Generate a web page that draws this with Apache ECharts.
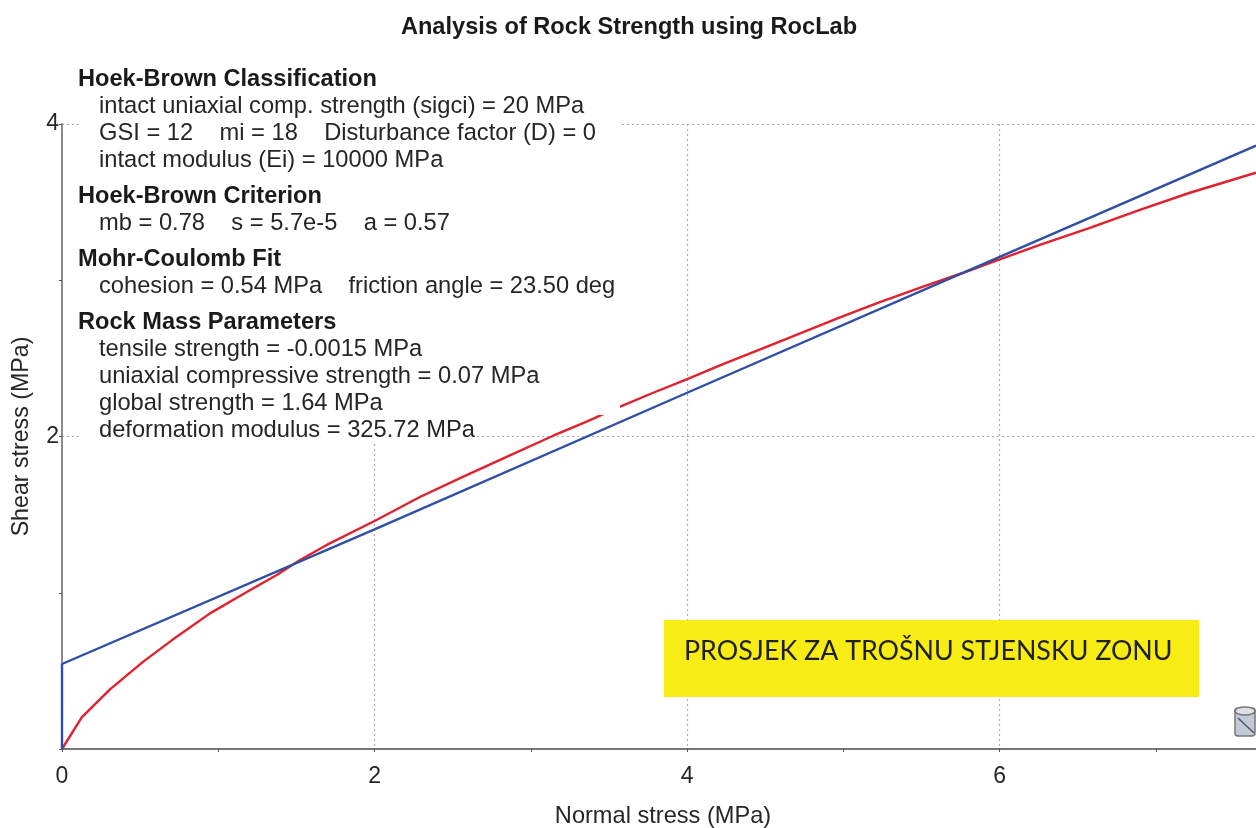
<!DOCTYPE html>
<html>
<head>
<meta charset="utf-8">
<script src="https://cdn.jsdelivr.net/npm/echarts@6/dist/echarts.min.js"></script>
<style>html,body{margin:0;padding:0;background:#fff}#c{width:1256px;height:828px}</style>
</head>
<body>
<div id="c"></div>
<script>
const hoekBrownEnvelope = [[0,0],[0.126,0.203],[0.307,0.382],[0.52,0.559],[0.734,0.719],[0.947,0.868],[1.16,0.992],[1.374,1.114],[1.523,1.21],[1.694,1.306],[2.003,1.461],[2.29,1.613],[2.568,1.743],[2.845,1.87],[3.143,2.005],[3.357,2.095],[3.453,2.138],[3.56,2.187],[3.783,2.28],[3.997,2.366],[4.21,2.455],[4.423,2.54],[4.636,2.625],[4.978,2.763],[5.233,2.86],[5.51,2.959],[5.767,3.048],[6,3.134],[6.257,3.226],[6.577,3.335],[6.897,3.45],[7.217,3.56],[7.64,3.688]];
const mohrCoulombFit = [[0,0],[0,0.544],[2,1.406],[4,2.28],[6,3.15],[7.64,3.861]];
const titleText = 'Analysis of Rock Strength using RocLab';
const xAxisName = 'Normal stress (MPa)';
const yAxisName = 'Shear stress (MPa)';
const noteText = 'PROSJEK ZA TROŠNU STJENSKU ZONU';
const headingLines = [['Hoek-Brown Classification',79],['Hoek-Brown Criterion',196],['Mohr-Coulomb Fit',259],['Rock Mass Parameters',322]];
const bodyLines = [
 ['intact uniaxial comp. strength (sigci) = 20 MPa',106],
 ['GSI = 12    mi = 18    Disturbance factor (D) = 0',133],
 ['intact modulus (Ei) = 10000 MPa',160],
 ['mb = 0.78    s = 5.7e-5    a = 0.57',223],
 ['cohesion = 0.54 MPa    friction angle = 23.50 deg',286],
 ['tensile strength = -0.0015 MPa',349],
 ['uniaxial compressive strength = 0.07 MPa',376],
 ['global strength = 1.64 MPa',403],
 ['deformation modulus = 325.72 MPa',430]];

const FONT = '"Liberation Sans", Arial, sans-serif';
const INK = '#262626';
const G = {left:62, right:0, top:124, bottom:79, outerBoundsMode:'none'};
const XMAX = 7.64, YMAX = 4;

function oddHidden(v){ return v % 2 === 0 ? String(v) : ''; }
const dotted = {show:true, showMinLine:false, showMaxLine:true, lineStyle:{color:'#ababab', type:[2,3], width:1.2}};
const dottedX = {...dotted, showMaxLine:false};

const textEls = [
 ...headingLines.map(([t,y]) => ({type:'text', z:30, x:78, y:y, style:{text:t, verticalAlign:'middle', font:'bold 23.6px '+FONT, fill:'#1a1a1a'}})),
 ...bodyLines.map(([t,y]) => ({type:'text', z:30, x:99, y:y, style:{text:t, verticalAlign:'middle', font:'23.7px '+FONT, fill:INK}}))
];

const chart = echarts.init(document.getElementById('c'), null, {renderer:'canvas'});
chart.setOption({
 animation:false,
 backgroundColor:'#fff',
 title:{text:titleText, left:624, top:10, textAlign:'center', textStyle:{fontFamily:FONT, fontWeight:'bold', fontSize:23.6, color:'#1a1a1a'}},
 grid:G,
 xAxis:[
  {type:'value', min:0, max:XMAX, interval:1, name:xAxisName, nameLocation:'middle', nameGap:55,
   nameMoveOverlap:false,
   nameTextStyle:{fontFamily:FONT, fontSize:23.6, color:INK, padding:[0,0,0,8]},
   axisLine:{show:true, lineStyle:{color:'#777', width:2}},
   axisTick:{show:true, length:3, inside:false, lineStyle:{color:'#555', width:1}},
   axisLabel:{show:true, formatter:oddHidden, showMaxLabel:false, margin:16, fontFamily:FONT, fontSize:23, color:INK},
   splitLine:{show:false}},
  {type:'value', min:0, max:XMAX, interval:2, position:'bottom', axisLine:{show:false}, axisTick:{show:false}, axisLabel:{show:false}, splitLine:dottedX}
 ],
 yAxis:[
  {type:'value', min:0, max:YMAX, interval:1, name:yAxisName, nameLocation:'middle', nameGap:29,
   nameMoveOverlap:false,
   nameTextStyle:{fontFamily:FONT, fontSize:23.2, color:INK},
   axisLine:{show:true, lineStyle:{color:'#8a8a8a', width:2}},
   axisTick:{show:true, length:3, lineStyle:{color:'#555', width:1}},
   axisLabel:{show:true, formatter:v => (v === 0 ? '' : oddHidden(v)), margin:3, padding:[8,0,0,0], fontFamily:FONT, fontSize:23, color:INK},
   splitLine:{show:false}},
  {type:'value', min:0, max:YMAX, interval:2, position:'left', axisLine:{show:false}, axisTick:{show:false}, axisLabel:{show:false}, splitLine:dotted}
 ],
 series:[
  {name:'Hoek-Brown', type:'line', xAxisIndex:0, yAxisIndex:0, data:hoekBrownEnvelope, showSymbol:false, symbol:'none', smooth:false, z:5, clip:true, lineStyle:{color:'#e2202e', width:2.4}},
  {name:'Mohr-Coulomb', type:'line', xAxisIndex:0, yAxisIndex:0, data:mohrCoulombFit, showSymbol:false, symbol:'none', smooth:false, z:6, clip:true, lineStyle:{color:'#2f4fa6', width:2.4}}
 ],
 graphic:{elements:[
  {type:'rect', z:20, silent:true, shape:{x:80,y:62,width:540,height:353}, style:{fill:'#fff'}},
  {type:'rect', z:20, silent:true, shape:{x:80,y:415,width:395,height:27}, style:{fill:'#fff'}},
  ...textEls,
  {type:'rect', z:30, shape:{x:664,y:620,width:535,height:77}, style:{fill:'#f7ec13'}},
  {type:'text', z:31, x:684, y:651, style:{text:noteText, verticalAlign:'middle', font:'26.8px Lato, "Open Sans", sans-serif', fill:'#1f1f1f'}},
  {type:'rect', z:30, shape:{x:1235,y:708,width:20,height:28,r:3}, style:{fill:'#c3cad6', stroke:'#777', lineWidth:1.5}},
  {type:'ellipse', z:31, shape:{cx:1245,cy:711,rx:10,ry:4}, style:{fill:'#dde0e5', stroke:'#777', lineWidth:1.5}},
  {type:'line', z:31, shape:{x1:1238,y1:718,x2:1254,y2:733}, style:{stroke:'#4a5570', lineWidth:1.5}}
 ]}
});
</script>
</body>
</html>
